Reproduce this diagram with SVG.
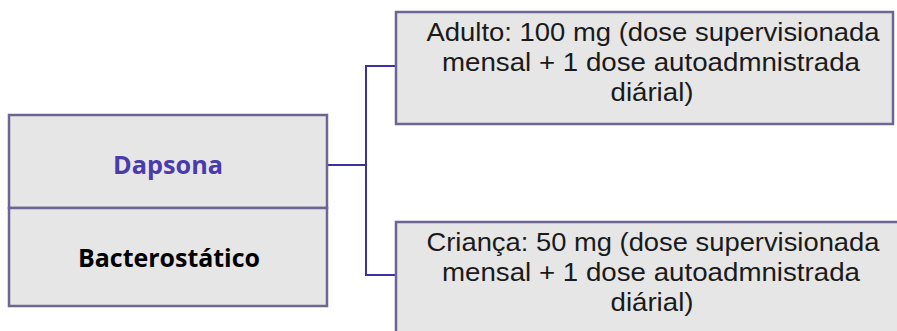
<svg xmlns="http://www.w3.org/2000/svg" width="897" height="331" viewBox="0 0 897 331">
<style>
.box{fill:#e6e6e6;stroke:#6e6593;stroke-width:2.5}
.t{font-family:"Liberation Sans",sans-serif;font-size:25px;fill:#1a1a1a;text-anchor:middle}
.b{font-family:"Open Sans","Liberation Sans",sans-serif;font-size:25px;font-weight:bold;text-anchor:middle}
.c{fill:none;stroke:#3d30a0;stroke-width:2}
</style>
<rect width="897" height="331" fill="#ffffff"/>
<g id="connectors">
<path class="c" d="M328 165 H366 V66 H396"/>
<path class="c" d="M366 165 V275 H396"/>
</g>
<g id="dapsona">
<rect class="box" x="9" y="115" width="318" height="93"/>
<text class="b" x="168" y="174" fill="#4a3bab" textLength="110" lengthAdjust="spacingAndGlyphs">Dapsona</text>
</g>
<g id="bacterostatico">
<rect class="box" x="9" y="208" width="318" height="98"/>
<text class="b" x="169" y="267" fill="#000000" textLength="182" lengthAdjust="spacingAndGlyphs">Bacterostático</text>
</g>
<g id="adulto">
<rect class="box" x="396" y="12" width="497" height="112"/>
<text class="t" x="653" y="41" textLength="453" lengthAdjust="spacingAndGlyphs">Adulto: 100 mg (dose supervisionada</text>
<text class="t" x="651" y="71" textLength="418" lengthAdjust="spacingAndGlyphs">mensal + 1 dose autoadmnistrada</text>
<text class="t" x="652" y="101" textLength="83" lengthAdjust="spacingAndGlyphs">diárial)</text>
</g>
<g id="crianca">
<rect class="box" x="396" y="222" width="510" height="120"/>
<text class="t" x="653" y="251" textLength="453" lengthAdjust="spacingAndGlyphs">Criança: 50 mg (dose supervisionada</text>
<text class="t" x="651" y="281" textLength="418" lengthAdjust="spacingAndGlyphs">mensal + 1 dose autoadmnistrada</text>
<text class="t" x="652" y="311" textLength="83" lengthAdjust="spacingAndGlyphs">diárial)</text>
</g>
</svg>
